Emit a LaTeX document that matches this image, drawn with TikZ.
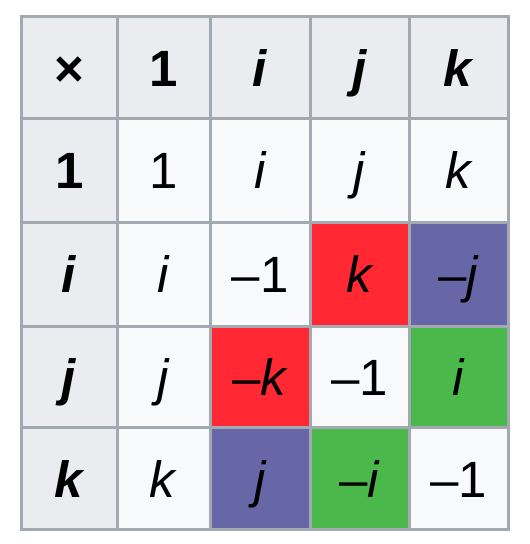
\documentclass[tikz,border=0pt]{standalone}
\usepackage{fontspec}
\setmainfont{Liberation Sans}
\usepackage{tikz}

\definecolor{hdgray}{HTML}{EAECF0}
\definecolor{bdgray}{HTML}{F8F9FA}
\definecolor{rulegray}{HTML}{A2A9B1}
\definecolor{qred}{HTML}{FF2833}
\definecolor{qblue}{HTML}{6767A8}
\definecolor{qgreen}{HTML}{4BB84B}

\tikzset{
  cell/.style={rectangle, draw=rulegray, line width=3pt, inner sep=0pt, outer sep=0pt,
    text height=37pt, text depth=0pt, font=\fontsize{51}{60}\selectfont},
  hd/.style={cell, fill=hdgray, font=\fontsize{51}{60}\selectfont\bfseries},
  bd/.style={cell, fill=bdgray},
  rd/.style={cell, fill=qred},
  bl/.style={cell, fill=qblue},
  gr/.style={cell, fill=qgreen}
}

\begin{document}
\begin{tikzpicture}[x=1pt, y=-1pt]
\useasboundingbox (0,0) rectangle (530,544);
% header row
\node (xx) at (69.25,67.5) [hd, minimum width=96.5pt, minimum height=102pt] {×};
\node (x1) at (163.75,67.5) [hd, minimum width=92.5pt, minimum height=102pt] {1};
\node (xi) at (260.25,67.5) [hd, minimum width=100.5pt, minimum height=102pt] {\textit{i}};
\node (xj) at (360,67.5) [hd, minimum width=99pt, minimum height=102pt] {\textit{j}};
\node (xk) at (459,67.5) [hd, minimum width=99pt, minimum height=102pt] {\textit{k}};
% row 1
\node (1x) at (69.25,170.25) [hd, minimum width=96.5pt, minimum height=103.5pt] {1};
\node (11) at (163.75,170.25) [bd, minimum width=92.5pt, minimum height=103.5pt] {1};
\node (1i) at (260.25,170.25) [bd, minimum width=100.5pt, minimum height=103.5pt] {\textit{i}};
\node (1j) at (360,170.25) [bd, minimum width=99pt, minimum height=103.5pt] {\textit{j}};
\node (1k) at (459,170.25) [bd, minimum width=99pt, minimum height=103.5pt] {\textit{k}};
% row i
\node (ix) at (69.25,274) [hd, minimum width=96.5pt, minimum height=104pt] {\textit{i}};
\node (i1) at (163.75,274) [bd, minimum width=92.5pt, minimum height=104pt] {\textit{i}};
\node (ii) at (260.25,274) [bd, minimum width=100.5pt, minimum height=104pt] {\textendash1};
\node (ij) at (360,274) [rd, minimum width=99pt, minimum height=104pt] {\textit{k}};
\node (ik) at (459,274) [bl, minimum width=99pt, minimum height=104pt] {\textendash\textit{j}};
% row j
\node (jx) at (69.25,376.75) [hd, minimum width=96.5pt, minimum height=101.5pt] {\textit{j}};
\node (j1) at (163.75,376.75) [bd, minimum width=92.5pt, minimum height=101.5pt] {\textit{j}};
\node (ji) at (260.25,376.75) [rd, minimum width=100.5pt, minimum height=101.5pt] {\textendash\textit{k}};
\node (jj) at (360,376.75) [bd, minimum width=99pt, minimum height=101.5pt] {\textendash1};
\node (jk) at (459,376.75) [gr, minimum width=99pt, minimum height=101.5pt] {\textit{i}};
% row k
\node (kx) at (69.25,478.5) [hd, minimum width=96.5pt, minimum height=102pt] {\textit{k}};
\node (k1) at (163.75,478.5) [bd, minimum width=92.5pt, minimum height=102pt] {\textit{k}};
\node (ki) at (260.25,478.5) [bl, minimum width=100.5pt, minimum height=102pt] {\textit{j}};
\node (kj) at (360,478.5) [gr, minimum width=99pt, minimum height=102pt] {\textendash\textit{i}};
\node (kk) at (459,478.5) [bd, minimum width=99pt, minimum height=102pt] {\textendash1};
\end{tikzpicture}
\end{document}
